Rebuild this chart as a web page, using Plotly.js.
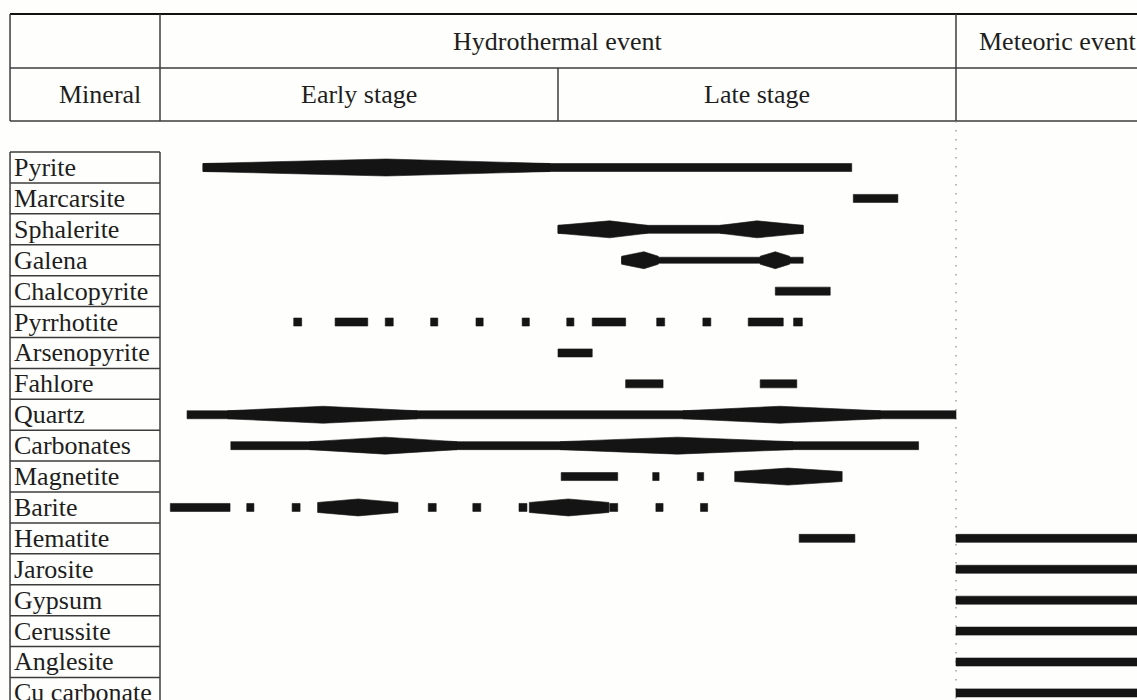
<!DOCTYPE html>
<html>
<head>
<meta charset="utf-8">
<script src="https://cdn.plot.ly/plotly-3.0.1.min.js"></script>
<style>html,body{margin:0;padding:0;background:#fefefc;}#chart{width:1137px;height:700px;}</style>
</head>
<body>
<div id="chart"></div>
<script>
// ---------------- DATA ----------------
// Relative time axis: hydrothermal event = 0..100 (early 0..50, late 50..100), meteoric event > 100
const minerals = ["Pyrite","Marcarsite","Sphalerite","Galena","Chalcopyrite","Pyrrhotite",
  "Arsenopyrite","Fahlore","Quartz","Carbonates","Magnetite","Barite","Hematite",
  "Jarosite","Gypsum","Cerussite","Anglesite","Cu carbonate"];

const eventLabels = ["Hydrothermal event","Meteoric event"];
const stageLabels = ["Early stage","Late stage"];
const columnLabel = "Mineral";

// periods of presence: [start, end]
const segPyrite       = [[5.4, 86.9]];
const segMarcarsite   = [[87.1, 92.7]];
const segSphalerite   = [[50.0, 80.8]];
const segGalena       = [[58.0, 80.8]];
const segChalcopyrite = [[77.3, 84.2]];
const segPyrrhotite   = [[16.8,17.8],[22.0,26.1],[28.3,29.3],[34.0,34.9],[39.7,40.6],[45.5,46.4],
                         [51.1,52.0],[54.3,58.5],[62.4,63.4],[68.2,69.2],[73.9,78.3],[79.6,80.7]];
const segArsenopyrite = [[50.0, 54.3]];
const segFahlore      = [[58.5, 63.2],[75.4, 80.0]];
const segQuartz       = [[3.4, 100]];
const segCarbonates   = [[8.9, 95.3]];
const segMagnetite    = [[50.4, 57.5],[61.9, 62.7],[67.5, 68.3]];
const segBarite       = [[1.3, 8.8],[10.9, 11.8],[16.6, 17.6],[33.7, 34.7],[39.3, 40.3],[45.1, 46.1],
                         [56.5, 57.5],[62.3, 63.2],[67.9, 68.8]];
const segHematite     = [[80.3, 87.3],[100, 125]];
const segJarosite     = [[100, 125]];
const segGypsum       = [[100, 125]];
const segCerussite    = [[100, 125]];
const segAnglesite    = [[100, 125]];
const segCuCarbonate  = [[100, 125]];

// abundance maxima (lenses): [start, peak, end]
const lensPyrite     = [[5.4, 28.4, 49.0]];
const lensSphalerite = [[50.0, 56.5, 61.2],[70.4, 75.0, 80.8]];
const lensGalena     = [[58.0, 60.8, 62.6],[75.4, 77.3, 79.1]];
const lensQuartz     = [[8.5, 20.5, 32.3],[65.7, 77.9, 90.5]];
const lensCarbonates = [[18.8, 28.3, 37.3],[50.3, 65.0, 79.5]];
const lensMagnetite  = [[72.2, 78.9, 85.7]];
const lensBarite     = [[19.8, 24.9, 29.9],[46.4, 51.3, 56.4]];

// ---------------- BUILD ----------------
const segments = [segPyrite,segMarcarsite,segSphalerite,segGalena,segChalcopyrite,segPyrrhotite,
  segArsenopyrite,segFahlore,segQuartz,segCarbonates,segMagnetite,segBarite,segHematite,
  segJarosite,segGypsum,segCerussite,segAnglesite,segCuCarbonate];
const lenses = {0:lensPyrite,2:lensSphalerite,3:lensGalena,8:lensQuartz,9:lensCarbonates,10:lensMagnetite,11:lensBarite};

// styling
const W = 1137, H = 700;
const xRange = [-20.1, 122.74];
const yRange = [17.23, -5.42];
const pxPerY = H / (yRange[0] - yRange[1]);
const ink = '#141414';
const baseW = {3: 6};          // bar thickness (px) per row, default 8
const blockLens = {3: 8, 10: 10, 11: 10}; // lens end thickness for flat-ended lenses
const peakW = 17;

const traces = [];
function poly(xs, ys) {
  traces.push({type:'scatter', mode:'lines', x:xs, y:ys, fill:'toself', fillcolor:ink,
    line:{width:0.6, color:ink}, hoverinfo:'skip', showlegend:false});
}
segments.forEach((segs, i) => {
  const h = (baseW[i] || 8) / 2 / pxPerY;
  segs.forEach(([a, b]) => {
    poly([a, b, b, a, a], [i - h, i - h, i + h, i + h, i - h]);
  });
});
Object.keys(lenses).forEach(k => {
  const i = +k;
  const he = (blockLens[i] || baseW[i] || 8) / 2 / pxPerY;
  const hp = peakW / 2 / pxPerY;
  lenses[k].forEach(([a, p, b]) => {
    poly([a, p, b, b, p, a, a], [i - he, i - hp, i - he, i + he, i + hp, i + he, i - he]);
  });
});

// table grid (in axis units)
const xLeft = -18.84, xMin = 0, xMid = 50, xMet = 100, xRight = 125;
const yTop = -4.967, yRow1 = -3.219, yRow2 = -1.505;
const gridCol = '#3c3c3c';
const shapes = [];
function ln(x0, y0, x1, y1, w, c, dash) {
  shapes.push({type:'line', xref:'x', yref:'y', x0, y0, x1, y1,
    line:{width:w, color:c, dash: dash || 'solid'}, layer:'below'});
}
ln(xLeft, yTop, xRight, yTop, 2, '#111');
ln(xLeft, yRow1, xRight, yRow1, 1.5, gridCol);
ln(xLeft, yRow2, xRight, yRow2, 1.5, gridCol);
ln(xLeft, yTop, xLeft, yRow2, 1.5, gridCol);
ln(xMin, yTop, xMin, yRow2, 1.5, gridCol);
ln(xMid, yRow1, xMid, yRow2, 1.5, gridCol);
ln(xMet, yTop, xMet, yRow2, 1.5, gridCol);
ln(xMet, yRow2, xMet, 18, 1.2, '#8a8a8a', '1.5px,7.5px');
for (let i = 0; i < minerals.length + 1; i++) ln(xLeft, i - 0.5, xMin, i - 0.5, 1.5, gridCol);
ln(xLeft, -0.5, xLeft, 18, 1.5, gridCol);
ln(xMin, -0.5, xMin, 18, 1.5, gridCol);

const font = {family:'"Liberation Serif", "Times New Roman", serif', size:26, color:'#1e1e1e'};
const annotations = [];
function txt(x, y, t, anchor) {
  annotations.push({x, y, xref:'x', yref:'y', text:t, showarrow:false, xanchor:anchor||'center',
    yanchor:'middle', font});
}
txt(50, (yTop + yRow1) / 2, eventLabels[0]);
txt(102.6, (yTop + yRow1) / 2, eventLabels[1], 'left');
txt(-7.54, (yRow1 + yRow2) / 2, columnLabel);
txt(25, (yRow1 + yRow2) / 2, stageLabels[0]);
txt(75, (yRow1 + yRow2) / 2, stageLabels[1]);
minerals.forEach((m, i) => txt(-18.55, i, m, 'left'));

const layout = {
  width: W, height: H, margin:{l:0, r:0, t:0, b:0},
  paper_bgcolor:'#fefefc', plot_bgcolor:'#fefefc',
  xaxis:{range:xRange, visible:false, fixedrange:true, showgrid:false, zeroline:false},
  yaxis:{range:yRange, visible:false, fixedrange:true, showgrid:false, zeroline:false},
  shapes, annotations, showlegend:false
};
Plotly.newPlot('chart', traces, layout, {displayModeBar:false, staticPlot:true});
</script>
</body>
</html>
